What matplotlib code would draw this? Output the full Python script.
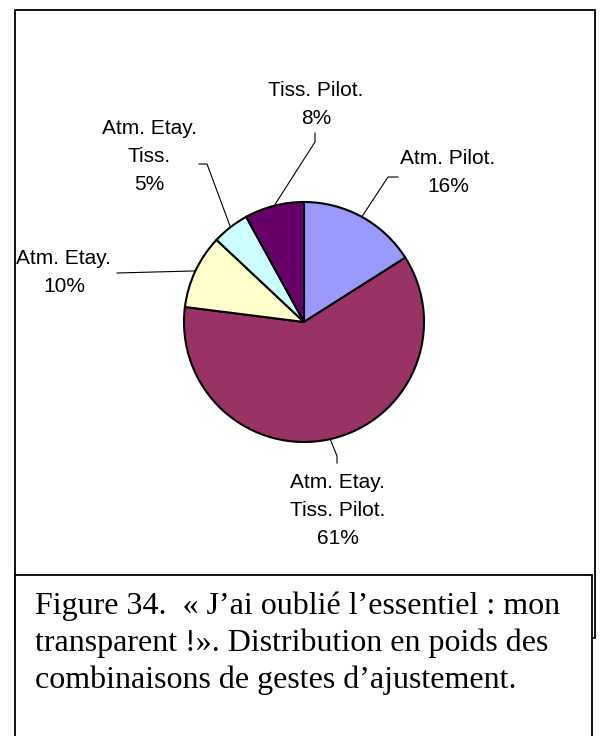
import numpy as np
import matplotlib
matplotlib.use('Agg')
import matplotlib.pyplot as plt
from matplotlib.patches import Rectangle

# 数据
categories = ['Atm. Pilot.', 'Atm. Etay.\nTiss. Pilot.', 'Atm. Etay.', 'Atm. Etay.\nTiss.', 'Tiss. Pilot.']
values = [16, 61, 10, 5, 8]
colors = ['#9999FF', '#993366', '#FFFFCC', '#CCFFFF', '#660066']

caption_lines = [
    'Figure 34.  \u00ab J\u2019ai oubli\u00e9 l\u2019essentiel : mon',
    'transparent !\u00bb. Distribution en poids des',
    'combinaisons de gestes d\u2019ajustement.',
]

W, H = 601, 736


def fy(y):
    """像素坐标(自上而下) -> 数据坐标"""
    return H - y


# 标签位置 (中心) 以及引线折点/端点
label_pos = [(448, 173), (338, 511), (64, 272), (149, 157), (316, 104)]
leader_pts = [
    [(388, 177), (398, 177)],
    [(337, 456), (337, 463)],
    [(117, 273)],
    [(207, 164), (199, 164)],
    [(315, 142), (315, 133)],
]

fig = plt.figure(figsize=(W / 100, H / 100), dpi=100)
ax = fig.add_axes([0, 0, 1, 1])

center = (304, fy(322))
radius = 120
wedges, _ = ax.pie(values, colors=colors, startangle=90, counterclock=False,
                   center=center, radius=radius,
                   wedgeprops=dict(edgecolor='black', linewidth=1.5))

ax.set_xlim(0, W)
ax.set_ylim(0, H)
ax.set_aspect('equal')
ax.axis('off')

# 外框
ax.add_patch(Rectangle((15, fy(638)), 580, 628, fill=False,
                       edgecolor='black', linewidth=1.3, zorder=1))

# 引线 + 标签
for w, cat, v, (lx, ly), pts in zip(wedges, categories, values, label_pos, leader_pts):
    mid = np.deg2rad((w.theta1 + w.theta2) / 2)
    x0 = center[0] + radius * np.cos(mid)
    y0 = center[1] + radius * np.sin(mid)
    xs = [x0] + [p[0] for p in pts]
    ys = [y0] + [fy(p[1]) for p in pts]
    ax.plot(xs, ys, color='black', linewidth=0.8, zorder=3)
    ax.text(lx, fy(ly), f'{cat}\n{v}%', ha='center', va='center',
            fontsize=15, family='Liberation Sans', linespacing=1.6,
            color='black', zorder=4)

# 图注框
ax.add_patch(Rectangle((15, fy(745)), 577, 170, facecolor='white',
                       edgecolor='black', linewidth=1.3, zorder=5))
for i, line in enumerate(caption_lines):
    ax.text(35, fy(614 + i * 37), line, ha='left', va='baseline',
            fontsize=23, family='Liberation Serif', color='black', zorder=6)

plt.savefig('out.png', dpi=100)
plt.close()
